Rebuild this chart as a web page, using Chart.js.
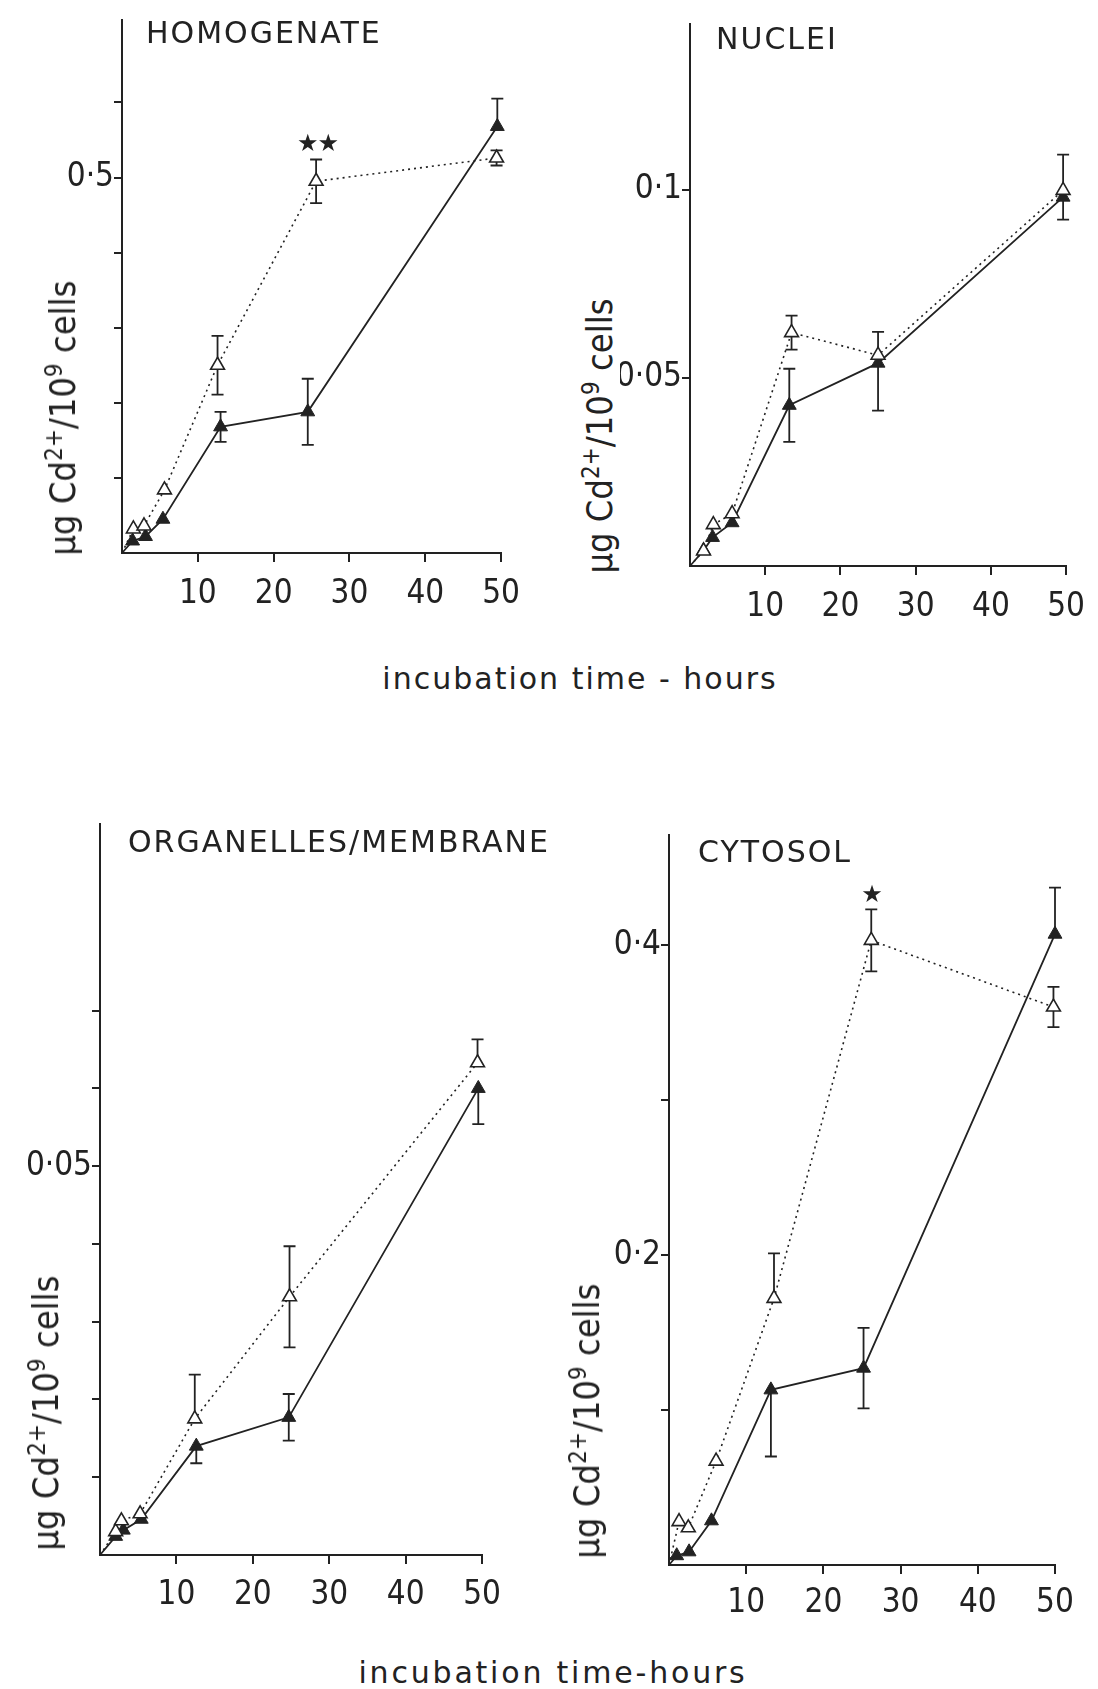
<!DOCTYPE html>
<html lang="en">
<head>
  <meta charset="UTF-8" />
  <title>Cd uptake - cell fractions</title>
  <style>
    body {
      margin: 0;
      background: #fff;
      font-family: "DejaVu Sans", sans-serif;
      color: #222;
    }
    #page {
      position: relative;
      width: 1098px;
      height: 1689px;
      overflow: hidden;
    }
    canvas {
      position: absolute;
    }
    .title, .xlab, .ylab {
      position: absolute;
      white-space: nowrap;
      font-size: 30px;
      line-height: 1;
    }
    .title {
      letter-spacing: 2px;
    }
    .xlab {
      letter-spacing: 2px;
      transform: translate(-50%, -50%);
    }
    .ylab {
      font-family: "DejaVu Sans Condensed", "DejaVu Sans", sans-serif;
      font-size: 36px;
      transform: translate(-50%, -50%) rotate(-90deg);
    }
    .ylab sup {
      font-size: 24px;
      vertical-align: 13px;
      line-height: 0;
    }
  </style>
  <script src="https://cdn.jsdelivr.net/npm/chart.js"></script>
</head>
<body>
<div id="page">
  <canvas id="hom" width="481" height="623" style="left:52px;top:0px"></canvas>
  <canvas id="nuc" width="478" height="636" style="left:620px;top:0px"></canvas>
  <canvas id="org" width="498" height="835" style="left:15px;top:790px"></canvas>
  <canvas id="cyt" width="486" height="845" style="left:599px;top:790px"></canvas>

  <div class="title" style="left:146px;top:18px">HOMOGENATE</div>
  <div class="title" style="left:716px;top:24px">NUCLEI</div>
  <div class="title" style="left:128px;top:827px">ORGANELLES/MEMBRANE</div>
  <div class="title" style="left:698px;top:837px">CYTOSOL</div>

  <div class="ylab" style="left:63px;top:418px">µg Cd<sup>2+</sup>/10<sup>9</sup> cells</div>
  <div class="ylab" style="left:600px;top:436px">µg Cd<sup>2+</sup>/10<sup>9</sup> cells</div>
  <div class="ylab" style="left:46px;top:1413px">µg Cd<sup>2+</sup>/10<sup>9</sup> cells</div>
  <div class="ylab" style="left:587px;top:1421px">µg Cd<sup>2+</sup>/10<sup>9</sup> cells</div>

  <div class="xlab" style="left:580px;top:679px">incubation time - hours</div>
  <div class="xlab" style="left:553px;top:1673px;letter-spacing:2.8px">incubation time-hours</div>
</div>

<script>
  // x axis (hours), same for all four panels
  const xTicks = [10, 20, 30, 40, 50];

  // error entries: a number for a symmetric bar, or [down, up]

  // HOMOGENATE
  const homFilledX = [0, 1.4, 3.1, 5.4, 13, 24.5, 49.5];
  const homFilled = [0, 0.016, 0.022, 0.045, 0.168, 0.188, 0.568];
  const homFilledErr = [0, 0, 0, 0, 0.02, 0.044, [0, 0.037]];
  const homOpenX = [0, 1.5, 2.9, 5.6, 12.6, 25.6, 49.4];
  const homOpen = [0, 0.032, 0.036, 0.084, 0.25, 0.495, 0.526];
  const homOpenErr = [0, 0, 0, 0, 0.039, 0.029, 0.01];
  const homYTicks = [0.1, 0.2, 0.3, 0.4, 0.5, 0.6];
  const homYLabels = [0.5];
  const homStars = [[24.5, 0.543], [27.2, 0.543]];

  // NUCLEI
  const nucFilledX = [0, 1.8, 3, 5.6, 13.2, 25, 49.6];
  const nucFilled = [0, 0.0041, 0.0076, 0.0115, 0.0427, 0.0539, 0.098];
  const nucFilledErr = [0, 0, 0, 0, 0.0097, [0.0126, 0], [0.006, 0]];
  const nucOpenX = [0, 1.8, 3.1, 5.6, 13.5, 25, 49.6];
  const nucOpen = [0, 0.004, 0.011, 0.0139, 0.062, 0.056, 0.0998];
  const nucOpenErr = [0, 0, 0, 0, 0.0045, [0, 0.0062], [0, 0.0095]];
  const nucYTicks = [0.05, 0.1];
  const nucYLabels = [0.05, 0.1];

  // ORGANELLES/MEMBRANE
  const orgFilledX = [0, 2.05, 3.05, 5.4, 12.6, 24.7, 49.5];
  const orgFilled = [0, 0.0024, 0.0032, 0.0046, 0.014, 0.0177, 0.060];
  const orgFilledErr = [0, 0, 0, 0, [0.0022, 0], 0.003, [0.0046, 0]];
  const orgOpenX = [0, 2.05, 2.8, 5.25, 12.4, 24.8, 49.4];
  const orgOpen = [0, 0.003, 0.0044, 0.0053, 0.0175, 0.0332, 0.0633];
  const orgOpenErr = [0, 0, 0, 0, [0, 0.0057], 0.0065, [0, 0.003]];
  const orgYTicks = [0.01, 0.02, 0.03, 0.04, 0.05, 0.06, 0.07];
  const orgYLabels = [0.05];

  // CYTOSOL
  const cytFilledX = [0, 1.0, 2.6, 5.5, 13.2, 25.2, 50];
  const cytFilled = [0, 0.006, 0.0085, 0.0285, 0.113, 0.127, 0.407];
  const cytFilledErr = [0, 0, 0, 0, [0.043, 0], 0.026, [0, 0.03]];
  const cytOpenX = [0, 1.3, 2.5, 6.1, 13.6, 26.2, 49.8];
  const cytOpen = [0, 0.028, 0.024, 0.067, 0.172, 0.403, 0.36];
  const cytOpenErr = [0, 0, 0, 0, [0, 0.029], 0.02, 0.013];
  const cytYTicks = [0.1, 0.2, 0.3, 0.4];
  const cytYLabels = [0.2, 0.4];
  const cytStars = [[26.3, 0.432]];

  const ink = '#222';
  const tickFont = { family: '"DejaVu Sans Condensed", "DejaVu Sans"', size: 33 };

  function toXY(xs, ys) {
    return xs.map((x, i) => ({ x: x, y: ys[i] }));
  }

  function fmt(v) {
    return String(v).replace('.', '·');
  }

  // vertical error bars with caps, drawn under the markers
  const errorBars = {
    id: 'errorBars',
    beforeDatasetsDraw(chart) {
      const ctx = chart.ctx;
      const xs = chart.scales.x, ys = chart.scales.y;
      ctx.save();
      ctx.strokeStyle = ink;
      ctx.lineWidth = 1.8;
      chart.data.datasets.forEach(ds => {
        ds.data.forEach((p, i) => {
          const e = ds.err[i];
          if (!e) return;
          const down = Array.isArray(e) ? e[0] : e;
          const up = Array.isArray(e) ? e[1] : e;
          const px = xs.getPixelForValue(p.x);
          const top = ys.getPixelForValue(p.y + up);
          const bot = ys.getPixelForValue(p.y - down);
          ctx.beginPath();
          ctx.moveTo(px, top); ctx.lineTo(px, bot);
          if (up) { ctx.moveTo(px - 6, top); ctx.lineTo(px + 6, top); }
          if (down) { ctx.moveTo(px - 6, bot); ctx.lineTo(px + 6, bot); }
          ctx.stroke();
        });
      });
      ctx.restore();
    }
  };

  const stars = {
    id: 'stars',
    afterDatasetsDraw(chart, args, opts) {
      if (!opts.points) return;
      const ctx = chart.ctx;
      ctx.save();
      ctx.fillStyle = ink;
      ctx.font = '24px "DejaVu Sans"';
      ctx.textAlign = 'center';
      ctx.textBaseline = 'middle';
      opts.points.forEach(s => {
        ctx.fillText('★', chart.scales.x.getPixelForValue(s[0]), chart.scales.y.getPixelForValue(s[1]));
      });
      ctx.restore();
    }
  };

  function panel(id, p) {
    return new Chart(document.getElementById(id), {
      type: 'scatter',
      data: {
        datasets: [
          {
            data: toXY(p.openX, p.open),
            err: p.openErr,
            showLine: true,
            borderColor: ink,
            borderWidth: 1.6,
            borderDash: [2, 4],
            pointStyle: 'triangle',
            pointRadius: c => c.dataIndex ? 8 : 0,
            pointBackgroundColor: '#fff',
            pointBorderColor: ink,
            pointBorderWidth: 1.6,
            clip: false
          },
          {
            data: toXY(p.filledX, p.filled),
            err: p.filledErr,
            showLine: true,
            borderColor: ink,
            borderWidth: 1.8,
            pointStyle: 'triangle',
            pointRadius: c => c.dataIndex ? 8 : 0,
            pointBackgroundColor: ink,
            pointBorderColor: ink,
            pointBorderWidth: 1,
            clip: false
          }
        ]
      },
      options: {
        responsive: false,
        animation: false,
        events: [],
        layout: { padding: { top: p.padTop, right: p.padRight, left: 0, bottom: 0 } },
        plugins: {
          legend: { display: false },
          tooltip: { enabled: false },
          stars: { points: p.stars }
        },
        scales: {
          x: {
            type: 'linear',
            min: 0,
            max: 50,
            afterBuildTicks: s => { s.ticks = xTicks.map(v => ({ value: v })); },
            afterFit: s => { s.height = 70; },
            grid: { drawOnChartArea: false, tickLength: 9, color: ink, lineWidth: 2 },
            border: { color: ink, width: 2 },
            ticks: { color: ink, font: tickFont, padding: p.xPad, maxRotation: 0 }
          },
          y: {
            type: 'linear',
            min: 0,
            max: p.yMax,
            afterBuildTicks: s => { s.ticks = p.yTicks.map(v => ({ value: v })); },
            afterFit: s => { s.width = p.yWidth; },
            grid: { drawOnChartArea: false, tickLength: 8, color: ink, lineWidth: 2 },
            border: { color: ink, width: 2 },
            ticks: {
              color: ink,
              font: tickFont,
              padding: 0,
              callback: v => p.yLabels.some(l => Math.abs(l - v) < 1e-9) ? fmt(v) : ''
            }
          }
        }
      },
      plugins: [errorBars, stars]
    });
  }

  panel('hom', {
    filledX: homFilledX, filled: homFilled, filledErr: homFilledErr,
    openX: homOpenX, open: homOpen, openErr: homOpenErr,
    yTicks: homYTicks, yLabels: homYLabels, yMax: 0.71, stars: homStars,
    yWidth: 70, padTop: 16, padRight: 30, xPad: 13
  });

  panel('nuc', {
    filledX: nucFilledX, filled: nucFilled, filledErr: nucFilledErr,
    openX: nucOpenX, open: nucOpen, openErr: nucOpenErr,
    yTicks: nucYTicks, yLabels: nucYLabels, yMax: 0.144, stars: null,
    yWidth: 70, padTop: 24, padRight: 25, xPad: 13
  });

  panel('org', {
    filledX: orgFilledX, filled: orgFilled, filledErr: orgFilledErr,
    openX: orgOpenX, open: orgOpen, openErr: orgOpenErr,
    yTicks: orgYTicks, yLabels: orgYLabels, yMax: 0.094, stars: null,
    yWidth: 85, padTop: 34, padRight: 30, xPad: 12
  });

  panel('cyt', {
    filledX: cytFilledX, filled: cytFilled, filledErr: cytFilledErr,
    openX: cytOpenX, open: cytOpen, openErr: cytOpenErr,
    yTicks: cytYTicks, yLabels: cytYLabels, yMax: 0.471, stars: cytStars,
    yWidth: 70, padTop: 45, padRight: 30, xPad: 10
  });
</script>
</body>
</html>
